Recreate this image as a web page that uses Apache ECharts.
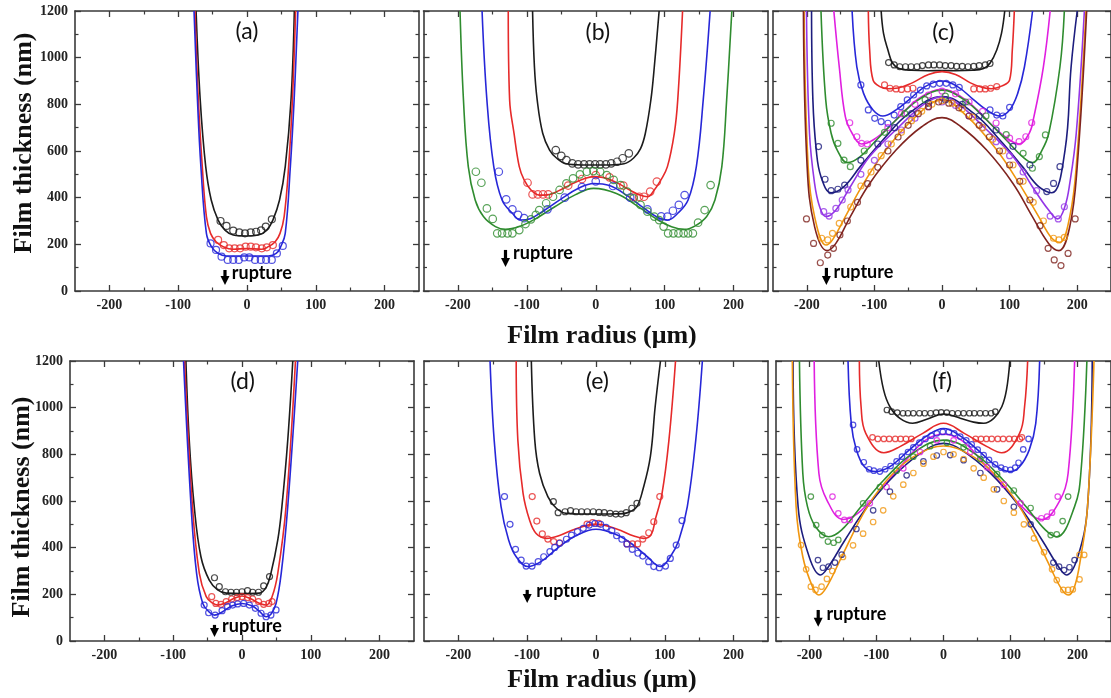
<!DOCTYPE html>
<html><head><meta charset="utf-8">
<script src="https://cdn.jsdelivr.net/npm/echarts@6/dist/echarts.min.js"></script>
<style>html,body{margin:0;padding:0;background:#fff}#c{width:1111px;height:698px}</style>
</head><body><div id="c"></div><script>
// ---- tick labels ----
const xTickLabels=[-200,-100,0,100,200];
const xMinorTicks=[-150,-50,50,150];
const yTickLabels=[0,200,400,600,800,1000,1200];
const yMinorTicks=[100,300,500,700,900,1100];
const panelLetters=['(a)','(b)','(c)','(d)','(e)','(f)'];

// ---- panel (a) ----
const a_black_fit=[[-74,1200],[-68,819],[-60,533],[-52,390],[-42,304],[-32,261],[-20,240],[0,236],[16.6,240],[28.8,261],[37.6,304],[47.3,390],[55.6,533],[64,819],[68.8,1200]];
const a_red_fit=[[-75.6,1200],[-70.7,819],[-65,533],[-59,319],[-53,247],[-45,211],[-34.6,190],[-20,179],[0,182],[21.5,179],[31,190],[41,211],[48,247],[54,319],[60.5,533],[66,819],[70.7,1200]];
const a_blue_fit=[[-77,1200],[-72,819],[-67,533],[-59,247],[-51.7,190],[-42,161],[-30,150],[0,150],[31,150],[42.4,161],[49,190],[55.6,247],[63,533],[68.5,819],[74,1200]];
const a_black_obs=[[-38.5,300],[-29.8,279],[-20,259],[-11.2,251],[-2.9,247],[5.4,251],[13.2,254],[20.5,260],[27.3,276],[36.1,307]];
const a_red_obs=[[-42,219],[-33.7,197],[-25.9,183],[-18,183],[-10,183],[-2,190],[5.4,190],[13,187],[21.5,183],[28.8,187],[37.6,197]];
const a_blue_obs=[[-53,204],[-45,176],[-37,147],[-28,133],[-20,133],[-12,133],[-4,144],[3.4,144],[11.7,133],[20,133],[27.8,133],[36,133],[43.4,161],[52,193]];

// ---- panel (b) ----
const b_black_fit=[[-91.7,1200],[-89,961],[-85,819],[-77,676],[-67,604],[-57,570],[-43,545],[-20,540],[0,540],[20,540],[41,545],[55,570],[65,610],[72,676],[80,819],[85,961],[92,1200]];
const b_red_fit=[[-127,1200],[-125,819],[-118.6,676],[-111,533],[-104,476],[-94,433],[-82,411],[-70,412],[-55,428],[-35,458],[-15,483],[-3,490],[10,487],[30,465],[50,432],[65,410],[75,404],[85,433],[94.6,476],[104,533],[114,676],[119,819],[126,1200]];
const b_blue_fit=[[-165,1200],[-158,819],[-148,533],[-136,390],[-121,333],[-109,304],[-95,310],[-75,345],[-50,395],[-25,440],[-3,461],[20,452],[45,410],[70,355],[90,315],[104,304],[119,333],[134,390],[146,533],[156,819],[166,1200]];
const b_green_fit=[[-197,1200],[-192,819],[-185,533],[-175,390],[-163,319],[-145.6,276],[-131,264],[-111,276],[-90,305],[-60,360],[-30,412],[-3,440],[30,418],[60,365],[90,305],[110,275],[129,264],[145,280],[161,319],[173,390],[183,533],[190,819],[197.5,1200]];
const b_black_obs=[[-58,604],[-50,579],[-42.6,561],[-34,547],[-25.5,543],[-17,543],[-9,543],[-1,543],[6.4,543],[14.7,543],[22.5,547],[31,554],[39,569],[48,590]];
const b_red_obs=[[-99,464],[-91.7,414],[-84,414],[-76.5,414],[-69,414],[-40,452],[-20,480],[0,497],[20,487],[40,452],[55,404],[63,404],[70,404],[79,426],[88.7,469]];
const b_blue_obs=[[-140.7,511],[-130,393],[-121,350],[-112.7,326],[-104,312],[-70,350],[-45,400],[-20,445],[0,470],[25,450],[50,400],[75,350],[95,320],[104,319],[112,344],[120.6,369],[129,411]];
const b_green_obs=[[-174,511],[-166,464],[-158,354],[-149.5,309],[-143,247],[-136,247],[-128,247],[-121,247],[-111,261],[-102,287],[-94,307],[-87,326],[-82,347],[-72,376],[-62,404],[-52.5,433],[-42.6,461],[-33,483],[-23,500],[-13,511],[-3.4,514],[6.4,511],[16,497],[26,476],[36,454],[45.6,426],[55,397],[65,369],[75,340],[85,319],[92,304],[98.5,276],[105,247],[112.7,247],[120,247],[127.5,247],[134,247],[141,247],[148.5,293],[158,347],[166.7,454]];

// ---- panel (c) ----
const c_black_fit=[[-90,1200],[-86.5,1104],[-80,1033],[-73,976],[-63.5,954],[-45,946],[-20,944],[0,945],[20,944],[45,946],[61.5,954],[71,976],[81,1033],[88,1104],[92.8,1200]];
const c_red_fit=[[-109,1200],[-107,1033],[-102,904],[-92,876],[-80,867],[-65,870],[-44,892],[-20,928],[0,940],[20,928],[42,892],[60,872],[73,867],[88,878],[100,904],[104,1033],[107,1200]];
const c_blue_fit=[[-133,1200],[-126,961],[-116,847],[-102,776],[-87.5,750],[-68,776],[-49,819],[-25,876],[0,900],[23,876],[47,819],[66,776],[85.6,750],[100,776],[112,847],[122,961],[134,1200]];
const c_magenta_fit=[[-160,1200],[-152,961],[-143,747],[-133,676],[-119,630],[-102,647],[-78,704],[-54,776],[-30,833],[0,864],[28,833],[52,776],[76,704],[100,647],[114,630],[129,676],[136,747],[150,961],[160,1200]];
const c_green_fit=[[-179,1200],[-172,819],[-164,676],[-155,604],[-140,550],[-121,576],[-97,647],[-68,733],[-35,819],[0,861],[33,819],[66,733],[95,647],[119,576],[134,550],[148,604],[158,676],[174.5,961],[181,1200]];
const c_navy_fit=[[-193,1200],[-191,819],[-186,604],[-179,490],[-164,421],[-145,447],[-121,533],[-87.5,647],[-49,761],[0,833],[47,761],[85.6,647],[119,533],[143,447],[162.5,421],[182,604],[191,961],[200,1200]];
const c_violet_fit=[[-200.5,1200],[-196,676],[-188.5,461],[-181,361],[-171.6,319],[-157,347],[-135.6,447],[-107,576],[-63.5,704],[-25,804],[0,833],[23,804],[61.5,704],[105,576],[133.7,447],[157.7,347],[171,309],[181.7,361],[189,461],[198.6,676],[210.6,1200]];
const c_orange_fit=[[-204,1200],[-198,533],[-188.5,319],[-171.6,197],[-162,219],[-143,319],[-116,461],[-83,604],[-39,747],[0,819],[37.5,747],[81,604],[114,461],[143,319],[162.5,226],[174.5,209],[189,319],[198.6,533],[213,1200]];
const c_brown_fit=[[-205,1200],[-199.5,533],[-188.5,276],[-170,173],[-157,204],[-135.6,319],[-107,461],[-68,604],[-30,704],[0,743],[28,704],[66,604],[105,461],[133.7,319],[157.7,204],[173,173],[189,276],[200,533],[214,1200]];
const c_black_obs=[[-79,979],[-70.7,969],[-62.5,961],[-54,961],[-45.7,961],[-37,961],[-29,966],[-20,969],[-12,969],[-3.4,969],[4.8,966],[13.5,966],[21.6,963],[30,963],[38.5,961],[47,963],[55,966],[64,969],[71,975]];
const c_red_obs=[[-85,883],[-77,869],[-68,866],[-60,864],[-51,866],[-43,869],[47,866],[56,866],[64,866],[72,869],[81,876]];
const c_blue_obs=[[-120,883],[-109,776],[-99.5,740],[-90,726],[-80,719],[-70.7,754],[-61,790],[-51.4,819],[-42,840],[-32,861],[-22.6,879],[-13,887],[-3.4,890],[6.3,890],[16,883],[25.5,873],[71,776],[81,754],[90,750],[100,787]];
const c_magenta_obs=[[-136.5,721],[-126,661],[-119,633],[-110.6,630],[-80,700],[-60,760],[-40,800],[-20,840],[0,857],[20,845],[40,810],[60,770],[80,720],[100,655],[114,640],[124,661],[132.7,721]];
const c_green_obs=[[-164,719],[-154,633],[-145,561],[-135.6,533],[-115,600],[-85,680],[-55,760],[-25,820],[5,835],[35,810],[65,750],[95,670],[120,590],[133.7,526],[144,576],[153,669]];
const c_navy_obs=[[-182.7,619],[-173,479],[-164,430],[-154,436],[-144,454],[-120,560],[-95,630],[-70,700],[-45,760],[-20,805],[5,820],[30,800],[55,750],[80,690],[105,620],[130,540],[155,426],[165,461],[174.5,533]];
const c_violet_obs=[[-175,340],[-167,321],[-157,354],[-147.6,390],[-139,433],[-120,500],[-100,560],[-80,630],[-60,690],[-40,740],[-20,790],[0,810],[20,795],[40,750],[60,700],[80,640],[100,580],[120,510],[140,430],[160,321],[172,309],[181,361]];
const c_orange_obs=[[-178,226],[-169,219],[-162,247],[-152,290],[-135,360],[-120,450],[-105,510],[-90,580],[-75,630],[-60,680],[-45,730],[-30,770],[-15,800],[0,815],[15,805],[30,780],[45,745],[60,700],[75,650],[90,600],[105,540],[120,470],[135,380],[150,300],[165,226],[173,219],[181,230]];
const c_brown_obs=[[-200.5,309],[-190,204],[-180,121],[-169,154],[-160.6,183],[-151,240],[-140,300],[-125,380],[-110,460],[-95,530],[-80,600],[-65,660],[-50,710],[-35,760],[-20,790],[-5,810],[10,805],[25,785],[40,750],[55,710],[70,660],[85,600],[100,540],[115,470],[130,390],[145,280],[157,183],[166,133],[176,109],[186.5,161],[197,309]];

// ---- panel (d) ----
const d_black_fit=[[-81.5,1200],[-76.7,861],[-69.4,576],[-59.7,361],[-47.6,261],[-35.4,219],[-23,205],[0,203],[25,205],[35,230],[42,290],[52,433],[58,576],[66.5,861],[73.8,1200]];
const d_red_fit=[[-83.5,1200],[-72,576],[-62,290],[-52,190],[-43,163],[-35,154],[-25,162],[-12,182],[0,193],[12,182],[25,162],[35,154],[43.7,190],[52,290],[64,576],[77.7,1200]];
const d_blue_fit=[[-85,1200],[-74,576],[-66,290],[-57,161],[-48,125],[-40,111],[-30,122],[-15,150],[0,161],[15,150],[25,128],[35,104],[42,115],[49.5,161],[57,290],[66.5,576],[81,1200]];
const d_black_obs=[[-40,271],[-33,233],[-24,211],[-16,209],[-8,209],[0,211],[8,216],[15.5,209],[24,209],[31.5,236],[40,276]];
const d_red_obs=[[-44,190],[-38,161],[-30.6,157],[-23,169],[-15,180],[-7,186],[0,190],[8,186],[15.5,180],[24,169],[31.5,157],[39,161],[43.7,169]];
const d_blue_obs=[[-55,154],[-48.5,121],[-39,111],[-29,130],[-21,147],[-13.6,154],[-6.3,159],[2.4,161],[10.7,154],[19.4,140],[27.7,119],[35,104],[42,111],[49.5,133]];

// ---- panel (e) ----
const e_black_fit=[[-94,1200],[-89,861],[-82,719],[-70,619],[-57.6,569],[-43,547],[-20,544],[0,544],[20,544],[40,546],[50,555],[59.5,576],[68,647],[79,790],[86,1004],[93.7,1200]];
const e_red_fit=[[-116,1200],[-113.6,861],[-106,633],[-96.6,519],[-87,461],[-72,440],[-55,450],[-30,480],[0,501],[30,480],[55,450],[69,440],[80,455],[86,519],[96,633],[106,861],[115.6,1200]];
const e_blue_fit=[[-154,1200],[-148,861],[-138,576],[-127,433],[-116,361],[-99,319],[-80,340],[-55,400],[-30,450],[0,479],[30,455],[55,410],[75,360],[93.7,319],[108,361],[120.5,433],[132.7,576],[145,861],[154.6,1200]];
const e_black_obs=[[-62,597],[-55,550],[-45,554],[-37,559],[-29,554],[-21,554],[-12.7,554],[-4,554],[4.4,551],[12,550],[20.5,547],[28.8,544],[36.6,544],[44,550],[52,569],[59.5,590]];
const e_red_obs=[[-92.7,619],[-86,514],[-78,459],[-70,437],[-61.5,426],[-53,421],[-13,501],[-5,507],[4,504],[45,416],[53,416],[60.5,416],[68,437],[76.6,464],[84,511],[92.7,619]];
const e_blue_obs=[[-133,619],[-125,500],[-117,393],[-108.8,347],[-101.5,321],[-93,321],[-84,340],[-76,361],[-67,383],[-60,401],[-52.7,419],[-43,436],[-35.6,454],[-27,469],[-18.5,483],[-9.8,497],[-1.5,504],[6.8,500],[14.6,487],[23,473],[30,451],[37.6,436],[45,416],[52.7,393],[60.9,376],[68,364],[76.6,340],[84,319],[92,314],[101,321],[108,354],[116.6,411],[125,516]];

// ---- panel (f) ----
const f_black_fit=[[-96.6,1200],[-89.4,1076],[-80,1004],[-65,954],[-46,933],[-25,950],[0,973],[25,955],[45,938],[60,933],[75,954],[87,1004],[94,1076],[99,1200]];
const f_red_fit=[[-125.6,1200],[-123,1004],[-116,890],[-89,807],[-65,833],[-31,890],[0,933],[31,890],[65,833],[87,807],[113.5,890],[121,1004],[125.6,1200]];
const f_blue_fit=[[-142.5,1200],[-137.7,933],[-130,819],[-118,747],[-101,726],[-80,747],[-51,819],[-26.6,876],[0,911],[26.6,876],[51,819],[80,747],[99,726],[113.5,747],[128,819],[137.7,933],[143.5,1200]];
const f_magenta_fit=[[-193,1200],[-186,719],[-174,604],[-150,521],[-128,547],[-94,647],[-55.6,776],[-26.6,861],[0,886],[26.6,861],[55.6,776],[94,647],[128,547],[147,521],[174,604],[186,719],[195.7,1200]];
const f_green_fit=[[-215,1200],[-210,719],[-203,576],[-191,490],[-171.5,447],[-152,476],[-123,576],[-89,690],[-46,804],[0,861],[46,804],[89,690],[123,576],[152,476],[169,447],[195.6,576],[205,719],[214,1200]];
const f_navy_fit=[[-224.6,1200],[-217,576],[-200.5,361],[-183.6,283],[-171.5,319],[-147,433],[-113.5,576],[-70,719],[-26.6,819],[0,847],[26.6,819],[70,719],[113.5,576],[147,433],[171.5,319],[183.6,283],[200.5,361],[215,576],[222,1200]];
const f_orange_fit=[[-225.6,1200],[-220,576],[-210,361],[-195.6,233],[-186,197],[-174,233],[-152,361],[-113.5,576],[-75,719],[-36,804],[0,836],[36,804],[75,719],[113.5,576],[152,361],[174,233],[186,197],[195.6,233],[205,361],[215,576],[224.6,1200]];
const f_black_obs=[[-84.5,990],[-77.3,983],[-69,979],[-60.4,976],[-53,976],[-45,976],[-36,976],[-28,976],[-19.3,976],[-11,979],[-3.4,980],[4.8,979],[13,976],[21.7,976],[30,976],[38.6,976],[46,976],[54.6,976],[62.8,976],[71,976],[77.3,983]];
const f_red_obs=[[-106,873],[-98,866],[-89,866],[-81,866],[-72,866],[-64,866],[-56,866],[-48,866],[48,866],[56,866],[64,866],[72,866],[81,866],[89,866],[98,866],[106,866],[114,866],[117,873]];
const f_blue_obs=[[-135,926],[-129,821],[-119,766],[-111,736],[-104,730],[-95,726],[-87,736],[-79,750],[-70,770],[-62,790],[-53,810],[-45,830],[-36,850],[-27,866],[-18,880],[-10,890],[-1,896],[8,896],[16,890],[25,876],[34,860],[42,843],[51,820],[60,797],[68,776],[77,757],[86,743],[92,736],[100,733],[107,743],[112,764],[119,821],[127,866]];
const f_magenta_obs=[[-165.7,619],[-157,547],[-148,519],[-140,519],[-110,590],[-85,660],[-60,740],[-35,810],[-10,860],[15,860],[40,810],[65,745],[90,670],[115,590],[146,526],[154.6,533],[162,550],[170.5,619]];
const f_green_obs=[[-198,619],[-190,497],[-181,454],[-172.5,426],[-164,421],[-157,433],[-120,590],[-95,660],[-70,730],[-45,790],[-20,835],[5,850],[30,830],[55,780],[80,715],[105,645],[130,570],[160,454],[169,457],[177.8,514],[186,619]];
const f_navy_obs=[[-187.4,347],[-180,314],[-171.5,319],[-162,336],[-152,370],[-130,480],[-105,560],[-80,640],[-55,710],[-30,770],[-10,795],[10,797],[30,775],[55,720],[80,650],[105,575],[130,500],[164,336],[172.5,319],[180,304],[188,316],[195.6,347]];
const f_orange_obs=[[-212.6,411],[-205,307],[-198,233],[-191,219],[-182,233],[-174,266],[-166,300],[-150,360],[-135,410],[-120,460],[-105,510],[-90,560],[-75,620],[-60,670],[-45,720],[-30,760],[-15,790],[0,810],[15,800],[30,780],[45,740],[60,700],[75,650],[90,600],[105,550],[120,500],[135,440],[150,380],[162,307],[169,261],[178.7,219],[186,219],[193,221],[203,264],[203,369],[210,369]];

// ---- annotations (data coords): panel letter [x,y], rupture arrow [x,yTop,yBottom], rupture text [x,y]
const letterAt=[[0,1110],[3,1106],[2,1106],[1,1111],[2,1111],[-2,1111]];
const arrowAt=[[-32,90,26],[-131,176,103],[-171,99,26],[-40,69,17],[-100,219,163],[-187,133,61]];
const ruptureTextAt=[[-22,78],[-120,163],[-160.6,82],[-29,65],[-86.8,215],[-174.8,115]];

const COL={black:'#1c1c1c',red:'#e62a2a',blue:'#2727d8',magenta:'#e01fe0',green:'#2f8c2f',navy:'#1d1d7e',violet:'#9436e6',orange:'#f0960f',brown:'#80241f'};

const panels=[
 {fits:[[a_black_fit,'black'],[a_red_fit,'red'],[a_blue_fit,'blue']],obs:[[a_black_obs,'black'],[a_red_obs,'red'],[a_blue_obs,'blue']],size:7},
 {fits:[[b_black_fit,'black'],[b_red_fit,'red'],[b_blue_fit,'blue'],[b_green_fit,'green']],obs:[[b_black_obs,'black'],[b_red_obs,'red'],[b_blue_obs,'blue'],[b_green_obs,'green']],size:7.5},
 {fits:[[c_black_fit,'black'],[c_red_fit,'red'],[c_blue_fit,'blue'],[c_magenta_fit,'magenta'],[c_green_fit,'green'],[c_navy_fit,'navy'],[c_violet_fit,'violet'],[c_orange_fit,'orange'],[c_brown_fit,'brown']],
  obs:[[c_black_obs,'black'],[c_red_obs,'red'],[c_blue_obs,'blue'],[c_magenta_obs,'magenta'],[c_green_obs,'green'],[c_navy_obs,'navy'],[c_violet_obs,'violet'],[c_orange_obs,'orange'],[c_brown_obs,'brown']],size:6},
 {fits:[[d_black_fit,'black'],[d_red_fit,'red'],[d_blue_fit,'blue']],obs:[[d_black_obs,'black'],[d_red_obs,'red'],[d_blue_obs,'blue']],size:6},
 {fits:[[e_black_fit,'black'],[e_red_fit,'red'],[e_blue_fit,'blue']],obs:[[e_black_obs,'black'],[e_red_obs,'red'],[e_blue_obs,'blue']],size:6},
 {fits:[[f_black_fit,'black'],[f_red_fit,'red'],[f_blue_fit,'blue'],[f_magenta_fit,'magenta'],[f_green_fit,'green'],[f_navy_fit,'navy'],[f_orange_fit,'orange']],
  obs:[[f_black_obs,'black'],[f_red_obs,'red'],[f_blue_obs,'blue'],[f_magenta_obs,'magenta'],[f_green_obs,'green'],[f_navy_obs,'navy'],[f_orange_obs,'orange']],size:5.5}
];

const gridBoxes=[
 {left:75,top:11,width:344,height:280},
 {left:423.5,top:11,width:344.5,height:280},
 {left:773,top:11,width:343,height:280},
 {left:70,top:361,width:344,height:280},
 {left:424,top:361,width:344,height:280},
 {left:776,top:361,width:345,height:280}
];

const AX='#3a3a3a';
const tickFont={fontFamily:'Liberation Serif',fontWeight:'bold',fontSize:14,color:'#222',formatter:v=>String(v)};
const xAxes=[],yAxes=[],series=[];
function mk(i,dim,pos,major,show){
  const ticks = dim==='x' ? (major?xTickLabels:xMinorTicks) : (major?yTickLabels:yMinorTicks);
  const ax={gridIndex:i,type:'value',position:pos,splitLine:{show:false},
    min: dim==='x'?-250:0, max: dim==='x'?250:1200,
    axisLine:{show:major,onZero:false,lineStyle:{color:AX,width:1.6}},
    axisTick:{show:true,inside:true,length:major?6:3.5,customValues:ticks,lineStyle:{color:AX,width:major?1.3:1.2}},
    axisLabel:show?Object.assign({show:true,customValues:ticks,margin:7},tickFont):{show:false}};
  return ax;
}
gridBoxes.forEach((g,i)=>{
  const showY=(i===0||i===3);
  xAxes.push(mk(i,'x','bottom',true,true),mk(i,'x','bottom',false,false),mk(i,'x','top',true,false),mk(i,'x','top',false,false));
  yAxes.push(mk(i,'y','left',true,showY),mk(i,'y','left',false,false),mk(i,'y','right',true,false),mk(i,'y','right',false,false));
  const p=panels[i];
  p.fits.forEach(([d,c])=>{
    series.push({type:'line',xAxisIndex:i*4,yAxisIndex:i*4,data:d,showSymbol:false,smooth:0.4,clip:true,
      lineStyle:{color:COL[c],width:1.6},silent:true,z:2});
  });
  p.obs.forEach(([d,c])=>{
    series.push({type:'scatter',xAxisIndex:i*4,yAxisIndex:i*4,data:d,symbol:'circle',symbolSize:p.size,
      itemStyle:{color:'rgba(0,0,0,0)',borderColor:COL[c],borderWidth:1.2},silent:true,z:3});
  });
});

const chart=echarts.init(document.getElementById('c'),null,{renderer:'canvas'});
chart.setOption({animation:false,backgroundColor:'#fff',
  grid:gridBoxes.map(g=>Object.assign({containLabel:false},g)),
  xAxis:xAxes,yAxis:yAxes,series:series});

const gr=[];
const titleFont='bold 26px "Liberation Serif"';
gr.push({type:'text',x:24,y:143,rotation:Math.PI/2,style:{text:'Film thickness (nm)',font:titleFont,fill:'#111',align:'center',verticalAlign:'middle'}});
gr.push({type:'text',x:22,y:507,rotation:Math.PI/2,style:{text:'Film thickness (nm)',font:titleFont,fill:'#111',align:'center',verticalAlign:'middle'}});
gr.push({type:'text',x:602,y:336,style:{text:'Film radius (\u03bcm)',font:titleFont,fill:'#111',align:'center',verticalAlign:'middle'}});
gr.push({type:'text',x:602,y:680,style:{text:'Film radius (\u03bcm)',font:titleFont,fill:'#111',align:'center',verticalAlign:'middle'}});
panels.forEach((p,i)=>{
  const f={xAxisIndex:i*4,yAxisIndex:i*4};
  const L=chart.convertToPixel(f,letterAt[i]);
  gr.push({type:'text',x:L[0],y:L[1],style:{text:panelLetters[i],font:'23px Lato',fill:'#111',align:'center',verticalAlign:'middle'}});
  const a=arrowAt[i];
  const t=chart.convertToPixel(f,[a[0],a[1]]),b=chart.convertToPixel(f,[a[0],a[2]]);
  gr.push({type:'rect',shape:{x:t[0]-1.6,y:t[1],width:3.2,height:Math.max(2,b[1]-t[1]-8)},style:{fill:'#000'}});
  gr.push({type:'polygon',shape:{points:[[b[0]-4.5,b[1]-9],[b[0]+4.5,b[1]-9],[b[0],b[1]]]},style:{fill:'#000'}});
  const T=chart.convertToPixel(f,ruptureTextAt[i]);
  gr.push({type:'text',x:T[0],y:T[1],style:{text:'rupture',font:'bold 18px Lato',fill:'#000',align:'left',verticalAlign:'middle'}});
});
chart.setOption({graphic:gr});
</script></body></html>
